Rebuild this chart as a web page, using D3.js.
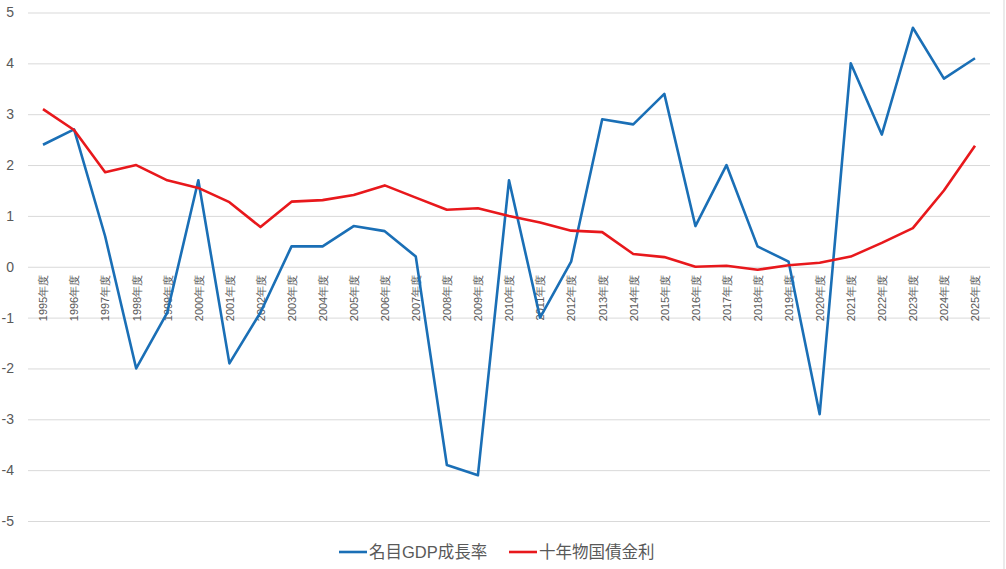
<!DOCTYPE html>
<html>
<head>
<meta charset="utf-8">
<script src="https://cdn.jsdelivr.net/npm/d3@7"></script>
<style>
  body { margin: 0; background: #fff; }
  svg { display: block; font-family: "Liberation Sans", "Noto Sans CJK JP", sans-serif; }
</style>
</head>
<body>
<script>
const years = ["1995年度","1996年度","1997年度","1998年度","1999年度","2000年度","2001年度","2002年度",
  "2003年度","2004年度","2005年度","2006年度","2007年度","2008年度","2009年度","2010年度","2011年度",
  "2012年度","2013年度","2014年度","2015年度","2016年度","2017年度","2018年度","2019年度","2020年度",
  "2021年度","2022年度","2023年度","2024年度","2025年度"];

const gdpGrowth = [2.4, 2.7, 0.6, -2.0, -0.9, 1.7, -1.9, -0.9, 0.4, 0.4, 0.8, 0.7, 0.2, -3.9, -4.1, 1.7,
  -1.0, 0.1, 2.9, 2.8, 3.4, 0.8, 2.0, 0.4, 0.1, -2.9, 4.0, 2.6, 4.7, 3.7, 4.1];

const bondYield = [3.1, 2.69, 1.86, 2.0, 1.7, 1.55, 1.27, 0.78, 1.28, 1.31, 1.41, 1.6, 1.36, 1.12, 1.15, 1.0,
  0.87, 0.71, 0.68, 0.25, 0.19, 0.0, 0.02, -0.06, 0.03, 0.08, 0.2, 0.47, 0.76, 1.5, 2.38];

const yTicks = [-5, -4, -3, -2, -1, 0, 1, 2, 3, 4, 5];

const series = [
  { name: "名目GDP成長率", values: gdpGrowth, color: "#1a6fb6" },
  { name: "十年物国債金利", values: bondYield, color: "#e8181c" }
];

const W = 1006, H = 569;
const plot = { left: 28, right: 990, top: 12.5, bottom: 521 };

const svg = d3.select("body").append("svg")
  .attr("width", W)
  .attr("height", H);

const x = d3.scalePoint()
  .domain(years)
  .range([43, 975]);

const y = d3.scaleLinear()
  .domain([-5, 5])
  .range([plot.bottom, plot.top]);

// y axis with gridlines (plain hyphen for negatives, like the original)
const yAxis = svg.append("g")
  .attr("transform", "translate(" + plot.left + ",0)")
  .call(d3.axisLeft(y).tickValues(yTicks).tickSize(-(plot.right - plot.left)).tickPadding(14).tickFormat(d => String(d)));
yAxis.select(".domain").remove();
yAxis.selectAll("line").attr("stroke", "#d9d9d9").attr("stroke-width", 1);
yAxis.selectAll("text")
  .attr("fill", "#595959")
  .style("font-size", "14px");

// category labels sit under the zero line
const xAxis = svg.append("g")
  .attr("transform", "translate(0," + y(0) + ")")
  .call(d3.axisBottom(x).tickSize(0));
xAxis.select(".domain").remove();
xAxis.selectAll("text")
  .attr("transform", "rotate(-90)")
  .attr("x", -8)
  .attr("y", 0)
  .attr("dy", "0.35em")
  .attr("text-anchor", "end")
  .attr("fill", "#595959")
  .style("font-size", "11px");

// faint frame edge on the right
svg.append("line")
  .attr("x1", 1004).attr("x2", 1004)
  .attr("y1", 0).attr("y2", H)
  .attr("stroke", "#e4e4e4")
  .attr("stroke-width", 1.5);

const line = d3.line()
  .x((d, i) => x(years[i]))
  .y(d => y(d));

svg.selectAll(".series")
  .data(series)
  .enter().append("path")
  .attr("class", "series")
  .attr("d", d => line(d.values))
  .attr("fill", "none")
  .attr("stroke", d => d.color)
  .attr("stroke-width", 2.6)
  .attr("stroke-linejoin", "round");

// legend
const legendX = [339, 509];
const legend = svg.selectAll(".legend")
  .data(series)
  .enter().append("g")
  .attr("class", "legend")
  .attr("transform", (d, i) => "translate(" + legendX[i] + ",552)");
legend.append("line")
  .attr("x1", 0).attr("x2", 28)
  .attr("stroke", d => d.color)
  .attr("stroke-width", 2.6);
legend.append("text")
  .attr("x", 30)
  .attr("dy", "0.35em")
  .attr("fill", "#595959")
  .style("font-size", "16.5px")
  .text(d => d.name);
</script>
</body>
</html>
